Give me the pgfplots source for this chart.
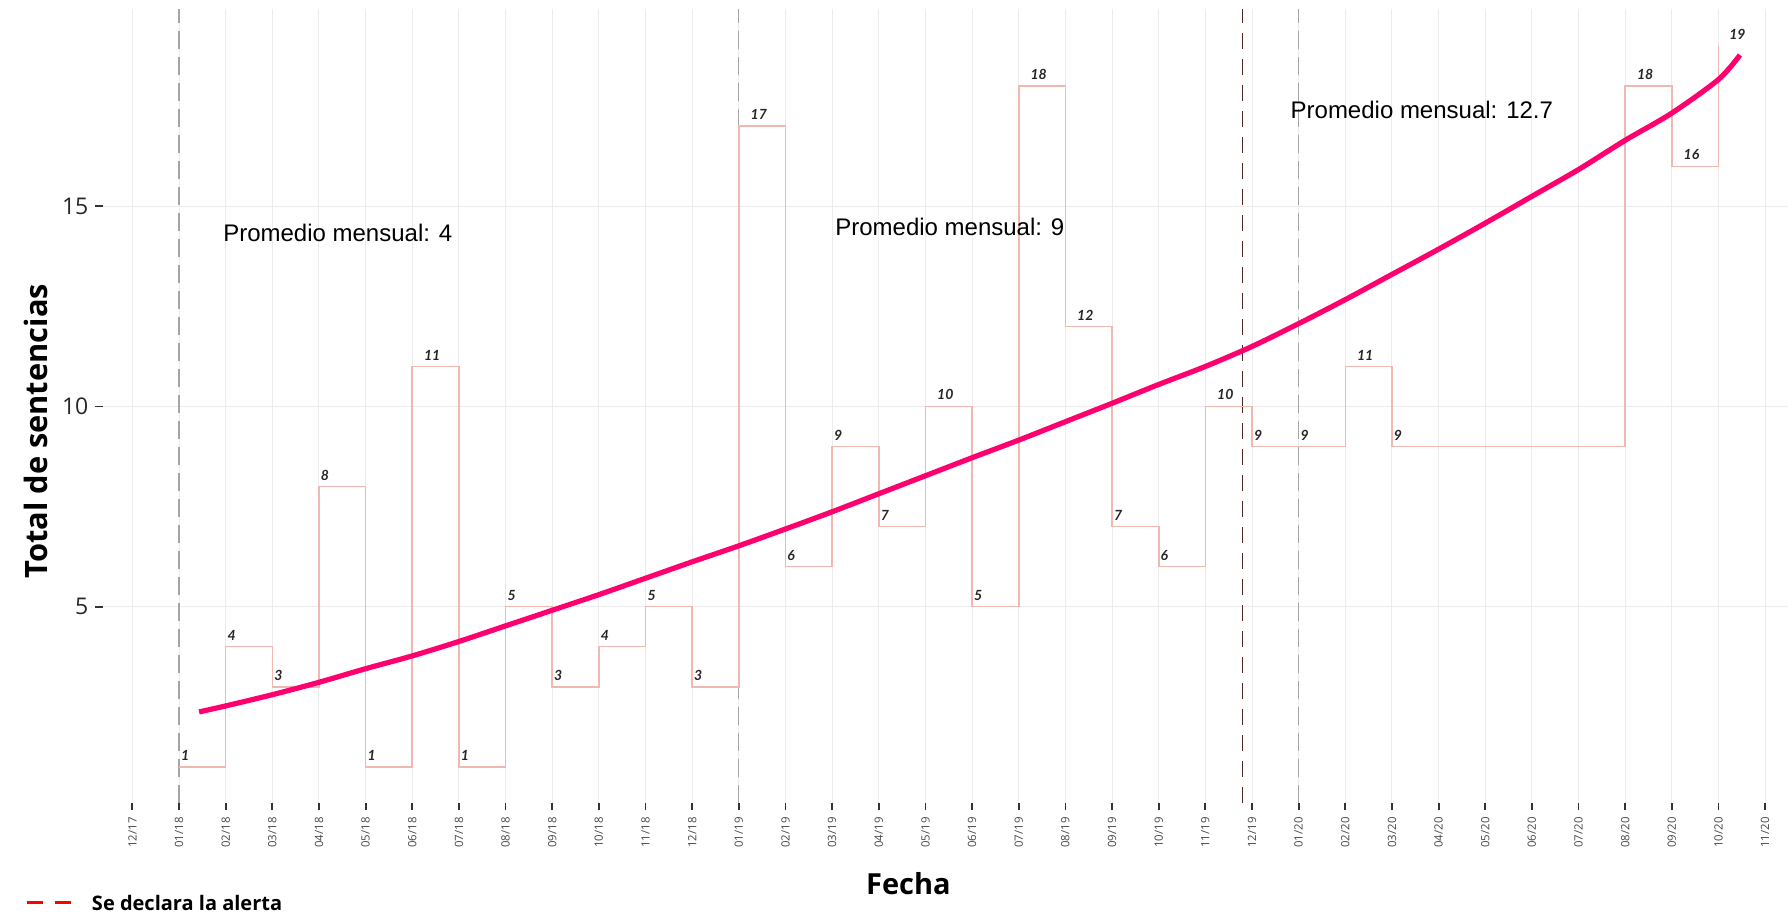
\documentclass[border=0pt]{standalone}
\usepackage{fontspec}
\setmainfont{Liberation Sans}
\newfontfamily\lato{Lato}
\newfontfamily\osans{Open Sans}
\usepackage{pgfplots}
\usepackage{pgfplotstable}
\pgfplotsset{compat=1.18}
\definecolor{stepc}{RGB}{240,184,176}
\definecolor{trendc}{RGB}{255,0,110}
\definecolor{gridc}{RGB}{236,236,236}
\definecolor{alertc}{RGB}{80,40,40}
\definecolor{yearc}{RGB}{165,165,165}

\pgfplotstableread{
x y dx
1 1 0.6
2 4 0.6
3 3 0.6
4 8 0.6
5 1 0.6
6 11 5.5
7 1 0.6
8 5 0.6
9 3 0.6
10 4 0.6
11 5 0.6
12 3 0.6
13 17 5.5
14 6 0.6
15 9 0.6
16 7 0.6
17 10 5.5
18 5 0.6
19 18 5.5
20 12 5.5
21 7 0.6
22 6 0.6
23 10 5.5
24 9 0.6
25 9 0.6
26 11 5.5
27 9 0.6
32 18 5.5
33 16 5.5
34 19 5.0
}\steps

\pgfplotstableread{
x y
1.43 2.37
2 2.52
3 2.80
4 3.11
5 3.45
6 3.77
7 4.13
8 4.52
9 4.91
10 5.30
11 5.71
12 6.12
13 6.52
14 6.94
15 7.37
16 7.82
17 8.27
18 8.72
19 9.16
20 9.62
21 10.08
22 10.55
23 11.00
24 11.50
25 12.07
26 12.67
27 13.30
28 13.93
29 14.58
30 15.25
31 15.92
32 16.65
33 17.33
34 18.17
34.46 18.78
}\trend

\begin{document}
\begin{tikzpicture}
\begin{axis}[
  name=ax,
  scale only axis, width=842.5pt, height=396.9pt,
  xmin=-0.63, xmax=35.49, ymin=0.1, ymax=19.93,
  axis x line*=bottom, axis y line*=left,
  axis line style={draw=none},
  tick align=outside,
  major tick length=3.8pt,
  tick style={draw=black!80, line width=0.9pt},
  xtick={0,...,35},
  xticklabels={12/17,01/18,02/18,03/18,04/18,05/18,06/18,07/18,08/18,09/18,10/18,11/18,12/18,01/19,02/19,03/19,04/19,05/19,06/19,07/19,08/19,09/19,10/19,11/19,12/19,01/20,02/20,03/20,04/20,05/20,06/20,07/20,08/20,09/20,10/20,11/20},
  xticklabel style={rotate=90, anchor=east, inner sep=3.3pt, font=\osans\fontsize{5.7}{6.5}\selectfont, text=black!72},
  ytick={5,10,15},
  yticklabel style={font=\osans\fontsize{11.5}{13}\selectfont, text=black!85},
  /pgf/number format/assume math mode=true,
  grid=major,
  major grid style={draw=gridc, line width=0.5pt},
  clip=false,
]
\addplot[yearc, line width=0.6pt, dash pattern=on 9pt off 4pt] coordinates {(1,0.1) (1,19.93)};
\addplot[yearc, line width=0.6pt, dash pattern=on 9pt off 4pt] coordinates {(13,0.1) (13,19.93)};
\addplot[yearc, line width=0.6pt, dash pattern=on 9pt off 4pt] coordinates {(25,0.1) (25,19.93)};
\addplot[alertc, line width=0.6pt, dash pattern=on 8pt off 5pt] coordinates {(23.8,0.1) (23.8,19.93)};

\addplot[const plot, stepc, line width=0.8pt,
  nodes near coords, point meta=explicit symbolic,
  visualization depends on={\thisrow{dx} \as \dx},
  every node near coord/.append style={anchor=south west, inner sep=0pt,
    xshift=\dx pt, yshift=2.8pt, text=black!85,
    font=\lato\bfseries\itshape\fontsize{7}{8}\selectfont}]
  table[x=x, y=y, meta=y] {\steps};

\addplot[trendc, line width=2.6pt, smooth] table[x=x, y=y] {\trend};

\node[anchor=base west, inner sep=0pt, font=\fontsize{12}{14}\selectfont] at (axis cs:1.94,14.12) {Promedio mensual: 4};
\node[anchor=base west, inner sep=0pt, font=\fontsize{12}{14}\selectfont] at (axis cs:15.06,14.26) {Promedio mensual: 9};
\node[anchor=base west, inner sep=0pt, font=\fontsize{12}{14}\selectfont] at (axis cs:24.82,17.2) {Promedio mensual: 12.7};

\node[rotate=90, font=\osans\bfseries\fontsize{15.4}{18}\selectfont] at ([xshift=-33.5pt]rel axis cs:0,0.468) {Total de sentencias};
\node[font=\osans\bfseries\fontsize{14.5}{17}\selectfont] at ([yshift=-40.6pt]rel axis cs:0.478,0) {Fecha};
\draw[red, line width=1.5pt, dash pattern=on 8pt off 6pt] ([xshift=-38.2pt,yshift=-50pt]rel axis cs:0,0) -- ([xshift=-16.2pt,yshift=-50pt]rel axis cs:0,0);
\node[anchor=west, inner sep=0pt, font=\osans\bfseries\fontsize{10}{12}\selectfont] at ([xshift=-5.7pt,yshift=-50pt]rel axis cs:0,0) {Se declara la alerta};
\end{axis}
\pgfresetboundingbox
\path ([xshift=-51.5pt,yshift=-55.6pt]ax.south west) rectangle ([yshift=4.5pt]ax.north east);
\end{tikzpicture}
\end{document}
